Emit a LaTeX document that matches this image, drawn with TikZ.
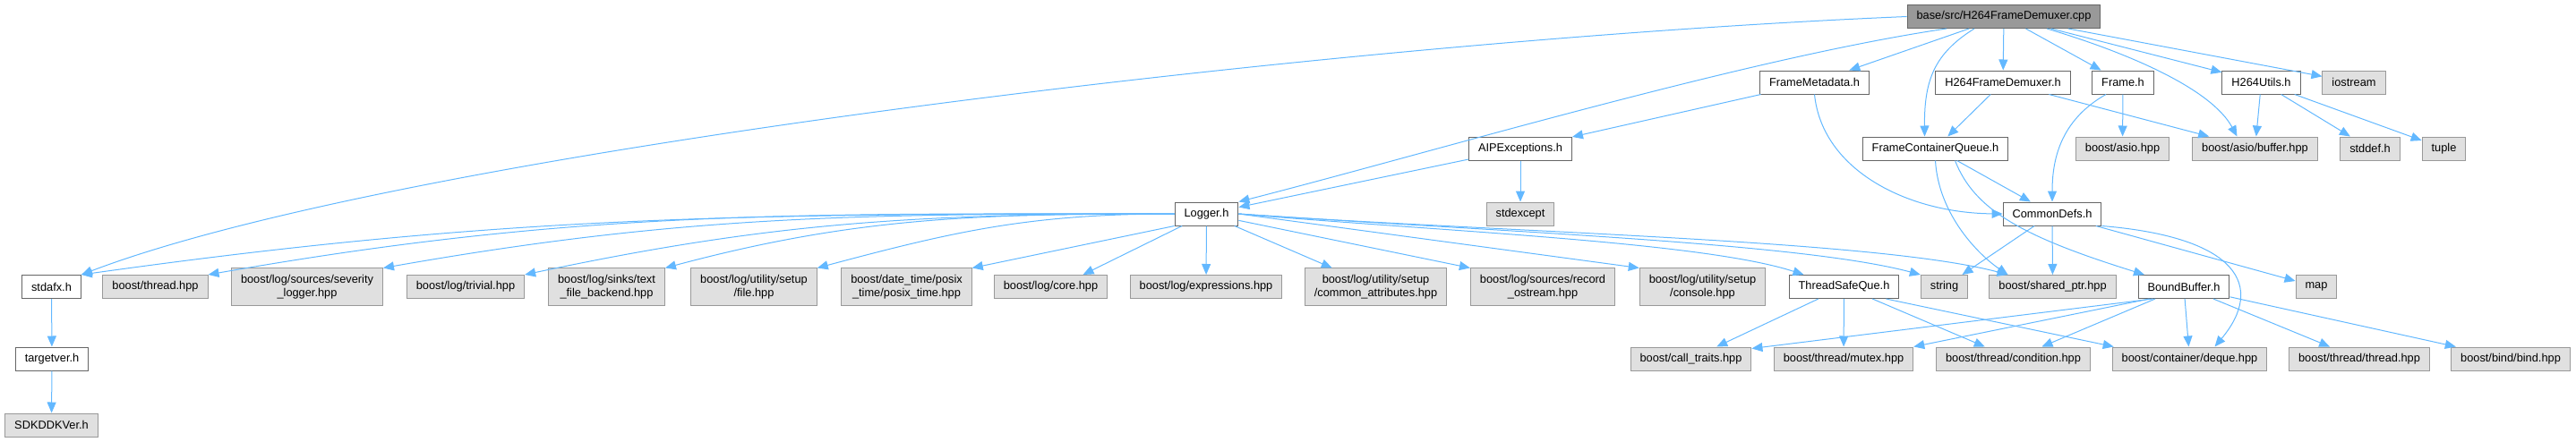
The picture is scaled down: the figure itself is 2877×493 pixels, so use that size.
\documentclass[tikz,border=0pt]{standalone}
\usepackage{fontspec}
\setmainfont{Liberation Sans}
\usepackage{tikz}
\usetikzlibrary{arrows.meta}

\definecolor{edgeblue}{HTML}{63B8FF}
\definecolor{rootfill}{HTML}{999999}
\definecolor{extfill}{HTML}{E0E0E0}

\begin{document}
\begin{tikzpicture}[x=1pt, y=1pt,
    every node/.style={font=\fontsize{12.8}{15.3}\selectfont, align=center,
        inner xsep=10.5pt, inner ysep=6.9pt, minimum height=26pt, line width=1pt},
    file/.style={draw=black!60, fill=white},
    ext/.style={draw=black!40, fill=extfill},
    rootfile/.style={draw=black!60, fill=rootfill},
    dep/.style={draw=edgeblue, line width=1pt, -{Triangle[length=12pt,width=10pt]}}]
    \useasboundingbox (0,0) rectangle (2877,-493);

    % Source file
    \node[rootfile] (root) at (2238,-18.5) {base/src/H264FrameDemuxer.cpp};

    % Direct headers
    \node[file] (fmeta) at (2026.5,-92) {FrameMetadata.h};
    \node[file] (demuxh) at (2237,-92) {H264FrameDemuxer.h};
    \node[file] (frameh) at (2371,-92) {Frame.h};
    \node[file] (utilsh) at (2525.5,-92) {H264Utils.h};
    \node[ext] (iostream) at (2629,-92) {iostream};

    \node[file] (aipexc) at (1698,-166) {AIPExceptions.h};
    \node[file] (fcq) at (2161.5,-166) {FrameContainerQueue.h};
    \node[ext] (asio) at (2370.5,-166) {boost/asio.hpp};
    \node[ext] (asiobuf) at (2518.5,-166) {boost/asio/buffer.hpp};
    \node[ext] (stddef) at (2647,-166) {stddef.h};
    \node[ext] (tuple) at (2729.5,-166) {tuple};

    \node[file] (logger) at (1347.5,-239) {Logger.h};
    \node[ext] (stdexcept) at (1698,-239) {stdexcept};
    \node[file] (commondefs) at (2292,-239) {CommonDefs.h};

    % Logger includes
    \node[file] (stdafx) at (57.5,-320.5) {stdafx.h};
    \node[ext] (bthread) at (173.5,-320.5) {boost/thread.hpp};
    \node[ext] (sevlog) at (343,-320.5) {boost/log/sources/severity\\\_logger.hpp};
    \node[ext] (trivial) at (520,-320.5) {boost/log/trivial.hpp};
    \node[ext] (textfile) at (677.5,-320.5) {boost/log/sinks/text\\\_file\_backend.hpp};
    \node[ext] (setupfile) at (842,-320.5) {boost/log/utility/setup\\/file.hpp};
    \node[ext] (posixtime) at (1012.5,-320.5) {boost/date\_time/posix\\\_time/posix\_time.hpp};
    \node[ext] (logcore) at (1173.5,-320.5) {boost/log/core.hpp};
    \node[ext] (logexpr) at (1347,-320.5) {boost/log/expressions.hpp};
    \node[ext] (commonattr) at (1536.5,-320.5) {boost/log/utility/setup\\/common\_attributes.hpp};
    \node[ext] (recostream) at (1723,-320.5) {boost/log/sources/record\\\_ostream.hpp};
    \node[ext] (console) at (1901.5,-320.5) {boost/log/utility/setup\\/console.hpp};
    \node[file] (tsq) at (2059.5,-320.5) {ThreadSafeQue.h};
    \node[ext] (string) at (2171.5,-320.5) {string};
    \node[ext] (sharedptr) at (2292.5,-320.5) {boost/shared\_ptr.hpp};
    \node[file] (boundbuf) at (2439,-320.5) {BoundBuffer.h};
    \node[ext] (map) at (2587,-320.5) {map};

    % Bottom rows
    \node[file] (targetver) at (58,-401) {targetver.h};
    \node[ext] (calltraits) at (1888.5,-401) {boost/call\_traits.hpp};
    \node[ext] (mutex) at (2059,-401) {boost/thread/mutex.hpp};
    \node[ext] (condition) at (2248.5,-401) {boost/thread/condition.hpp};
    \node[ext] (deque) at (2445.5,-401) {boost/container/deque.hpp};
    \node[ext] (thread) at (2635,-401) {boost/thread/thread.hpp};
    \node[ext] (bind) at (2804,-401) {boost/bind/bind.hpp};
    \node[ext] (sdkddk) at (57.5,-475) {SDKDDKVer.h};

    % Edges from the source file
    \draw[dep] (root.west) .. controls (1500,-45) and (450,-170) .. (stdafx.north east);
    \draw[dep] ([xshift=-64pt]root.south) .. controls (1950,-65) and (1600,-170) .. (logger.north east);
    \draw[dep] ([xshift=-33pt]root.south) .. controls (2160,-60) and (2149,-90) .. ([xshift=-12pt]fcq.north);
    \draw[dep] ([xshift=48pt]root.south) .. controls (2380,-60) and (2470,-100) .. ([xshift=-20pt]asiobuf.north);
    \foreach \t in {fmeta, demuxh, frameh, utilsh, iostream}
        \draw[dep] (root) -- (\t);

    % Second level
    \draw[dep] (fmeta) -- (aipexc);
    \draw[dep] (fmeta.south) .. controls (2035,-190) and (2130,-238) .. (commondefs.west);
    \draw[dep] (demuxh) -- (fcq);
    \draw[dep] (demuxh) -- (asiobuf);
    \draw[dep] (frameh) -- (asio);
    \draw[dep] ([xshift=-19pt]frameh.south) .. controls (2300,-135) and (2292,-180) .. (commondefs.north);
    \foreach \t in {asiobuf, stddef, tuple}
        \draw[dep] (utilsh) -- (\t);

    % Third level
    \draw[dep] (aipexc) -- (logger);
    \draw[dep] (aipexc) -- (stdexcept);
    \draw[dep] (fcq) -- (commondefs);
    \draw[dep] (fcq.south) .. controls (2165,-240) and (2210,-285) .. ([xshift=-50pt]sharedptr.north);
    \draw[dep] ([xshift=22pt]fcq.south) .. controls (2205,-235) and (2260,-265) .. ([xshift=-44pt]boundbuf.north);
    \foreach \t in {string, sharedptr, map}
        \draw[dep] (commondefs) -- (\t);
    \draw[dep] (commondefs.south east) .. controls (2500,-265) and (2530,-320) .. ([xshift=28pt]deque.north);

    % Logger fan-out
    \foreach \t/\i/\d in {stdafx/8/480, bthread/10/420, sevlog/10/345, trivial/12/285, textfile/15/220, setupfile/15/160}
        \draw[dep] (logger.west) .. controls +(180:\d) and +(\i:\d) .. (\t.north east);
    \draw[dep] (logger.south west) -- (posixtime.north east);
    \draw[dep] (logger) -- ([xshift=36pt]logcore.north);
    \draw[dep] (logger) -- (logexpr);
    \draw[dep] (logger) -- (commonattr);
    \draw[dep] (logger) -- (recostream.north west);
    \draw[dep] (logger.east) -- (console.north west);
    \draw[dep] (logger.east) .. controls +(-5:220) and +(162:120) .. ([xshift=-45pt]tsq.north);
    \draw[dep] (logger.east) .. controls +(-4:280) and +(165:140) .. (string.north west);
    \draw[dep] (logger.east) .. controls +(-4:300) and +(165:150) .. ([xshift=-50pt]sharedptr.north);

    % Queue and buffer includes
    \foreach \t in {calltraits, mutex, condition}
        \draw[dep] (tsq) -- (\t);
    \draw[dep] ([xshift=-15pt]tsq.south east) -- ([xshift=2pt]deque.north west);
    \draw[dep] ([xshift=17pt]boundbuf.south west) -- ([yshift=-2pt]calltraits.north east);
    \draw[dep] ([xshift=13pt]boundbuf.south west) -- (mutex.north east);
    \foreach \t in {condition, deque, thread, bind}
        \draw[dep] (boundbuf) -- (\t);

    % stdafx chain
    \draw[dep] (stdafx) -- (targetver);
    \draw[dep] (targetver) -- (sdkddk);
\end{tikzpicture}
\end{document}
